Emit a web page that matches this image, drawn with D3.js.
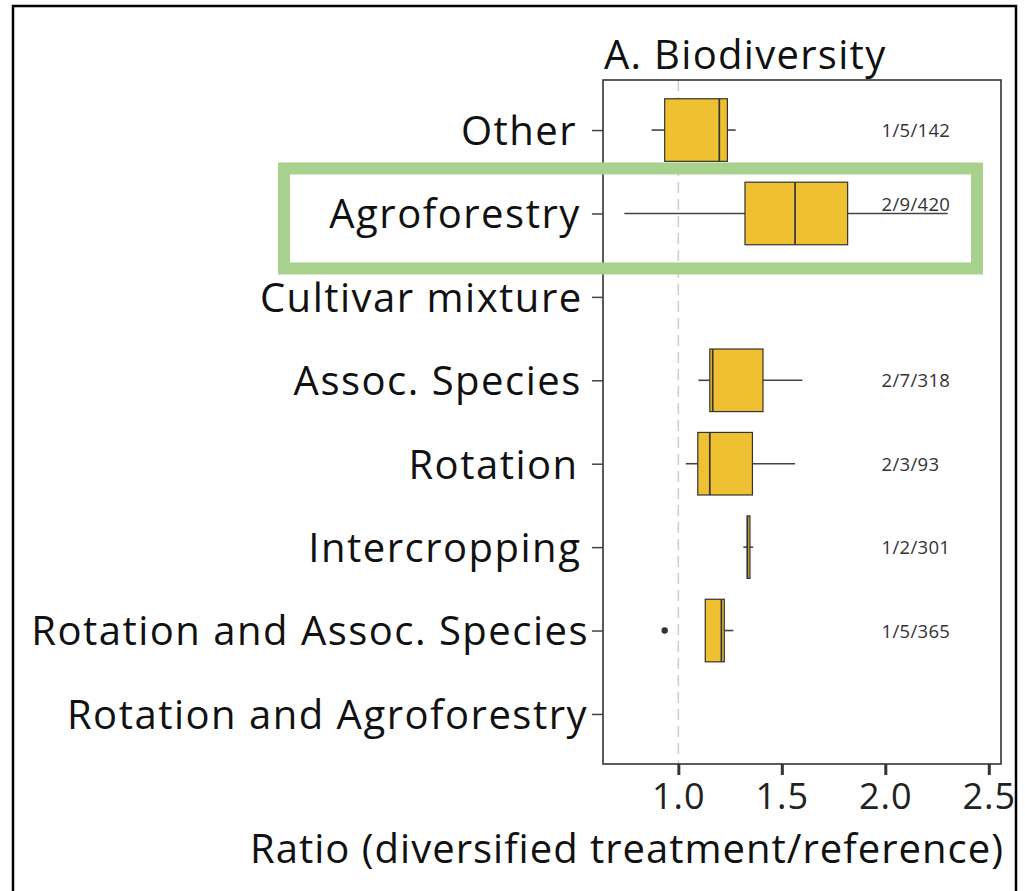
<!DOCTYPE html>
<html>
<head>
<meta charset="utf-8">
<script src="https://cdn.jsdelivr.net/npm/d3@7"></script>
<style>
  html, body { margin: 0; padding: 0; background: #fff; }
  svg { display: block; }
  text { font-family: "Open Sans", "Noto Sans", sans-serif; }
</style>
</head>
<body>
<svg id="chart" width="1025" height="891"></svg>
<script>
// ---- data ----
const categories = ["Other", "Agroforestry", "Cultivar mixture", "Assoc. Species", "Rotation",
  "Intercropping", "Rotation and Assoc. Species", "Rotation and Agroforestry"];
const lowerWhisker = [0.871, 0.739, null, 1.097, 1.036, 1.314, 1.130, null];
const q1Values     = [0.934, 1.322, null, 1.152, 1.094, 1.333, 1.130, null];
const medianValues = [1.198, 1.564, null, 1.166, 1.152, 1.334, 1.208, null];
const q3Values     = [1.237, 1.818, null, 1.409, 1.358, 1.346, 1.222, null];
const upperWhisker = [1.277, 2.301, null, 1.599, 1.564, 1.362, 1.266, null];
const outlierCategories = ["Rotation and Assoc. Species"];
const outlierValues = [0.934];
const countLabels = ["1/5/142", "2/9/420", "", "2/7/318", "2/3/93", "1/2/301", "1/5/365", ""];
const xTicks = [1.0, 1.5, 2.0, 2.5];
const referenceValue = 1.0;
const titleText = "A. Biodiversity";
const xTitle = "Ratio (diversified treatment/reference)";
const highlighted = "Agroforestry";

// ---- layout ----
const svg = d3.select("#chart");
const panel = { left: 603, right: 1001, top: 80, bottom: 764 };

const x = d3.scaleLinear().domain([0.636, 2.559]).range([panel.left, panel.right]);
const y = d3.scalePoint().domain(categories).range([panel.top, panel.bottom]).padding(0.6);
const step = y.step();
const boxH = step * 0.75;
const labelX = 1.982;

// outer frame
svg.append("path")
  .attr("d", "M13,895 L13,6 L1016,6 L1016,895")
  .attr("fill", "none").attr("stroke", "#000").attr("stroke-width", 2.5);

// title
svg.append("text").attr("x", panel.left + 1).attr("y", 69)
  .attr("font-size", 40).attr("letter-spacing", 1.3).attr("fill", "#111").text(titleText);

// reference dashed line
svg.append("line")
  .attr("x1", x(referenceValue)).attr("x2", x(referenceValue))
  .attr("y1", panel.top).attr("y2", panel.bottom)
  .attr("stroke", "#cfcfcf").attr("stroke-width", 1.6).attr("stroke-dasharray", "11,6");

// boxes
const rows = categories.map((c, i) => ({
  cat: c, lo: lowerWhisker[i], q1: q1Values[i], med: medianValues[i], q3: q3Values[i], hi: upperWhisker[i], n: countLabels[i]
}));
const g = svg.append("g");
rows.filter(d => d.med !== null).forEach(d => {
  const cy = y(d.cat);
  g.append("line").attr("x1", x(d.lo)).attr("x2", x(d.q1)).attr("y1", cy).attr("y2", cy)
    .attr("stroke", "#444").attr("stroke-width", 1.6);
  g.append("line").attr("x1", x(d.q3)).attr("x2", x(d.hi)).attr("y1", cy).attr("y2", cy)
    .attr("stroke", "#444").attr("stroke-width", 1.6);
  g.append("rect").attr("x", x(d.q1)).attr("y", cy - boxH / 2)
    .attr("width", Math.max(0.5, x(d.q3) - x(d.q1))).attr("height", boxH)
    .attr("fill", "#efc132").attr("stroke", "#333").attr("stroke-width", 1.2);
  g.append("line").attr("x1", x(d.med)).attr("x2", x(d.med))
    .attr("y1", cy - boxH / 2).attr("y2", cy + boxH / 2)
    .attr("stroke", "#333").attr("stroke-width", 1.7);
});
outlierCategories.forEach((c, i) => {
  g.append("circle").attr("cx", x(outlierValues[i])).attr("cy", y(c)).attr("r", 3.2).attr("fill", "#333");
});

// count labels (sit above the whisker when it runs under them)
rows.filter(d => d.n).forEach(d => {
  const overlap = d.hi > labelX;
  svg.append("text").attr("x", x(labelX)).attr("y", y(d.cat) + (overlap ? -2 : 7))
    .attr("font-size", 18.5).attr("letter-spacing", 0.3).attr("fill", "#333").text(d.n);
});

// panel border
svg.append("rect").attr("x", panel.left).attr("y", panel.top)
  .attr("width", panel.right - panel.left).attr("height", panel.bottom - panel.top)
  .attr("fill", "none").attr("stroke", "#333").attr("stroke-width", 1.6);

// y axis
const yAxis = d3.axisLeft(y).tickSize(11).tickPadding(14);
const ya = svg.append("g").attr("transform", `translate(${panel.left},0)`).call(yAxis);
ya.select(".domain").remove();
ya.selectAll(".tick line").attr("stroke", "#444").attr("stroke-width", 1.5);
ya.selectAll(".tick text").attr("font-size", 40).attr("fill", "#111")
  .attr("letter-spacing", 1.5)
  .attr("font-family", "'Open Sans', sans-serif").attr("dy", "0.36em")
  .attr("dx", function () { return -4 + 0.027 * this.getComputedTextLength(); });

// x axis
const xAxis = d3.axisBottom(x).tickValues(xTicks).tickFormat(d3.format(".1f")).tickSize(11).tickPadding(8);
const xa = svg.append("g").attr("transform", `translate(0,${panel.bottom})`).call(xAxis);
xa.select(".domain").remove();
xa.selectAll(".tick line").attr("stroke", "#333").attr("stroke-width", 3);
xa.selectAll(".tick text").attr("font-size", 36).attr("fill", "#222").attr("letter-spacing", 1)
  .attr("font-family", "'Open Sans', sans-serif");

// x title
svg.append("text").attr("x", 1004).attr("y", 863).attr("text-anchor", "end")
  .attr("font-size", 40).attr("letter-spacing", 1).attr("fill", "#111").text(xTitle);

// highlight rectangle
const hy = y(highlighted);
svg.append("rect").attr("x", 284).attr("y", hy - 45).attr("width", 693).attr("height", 100)
  .attr("fill", "none").attr("stroke", "#a9d18e").attr("stroke-width", 12);
</script>
</body>
</html>
